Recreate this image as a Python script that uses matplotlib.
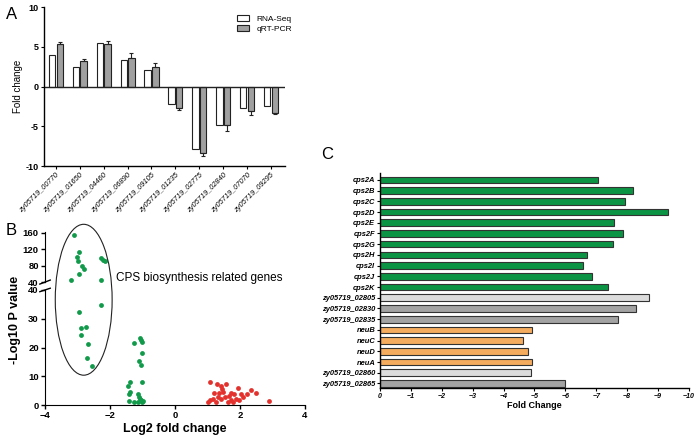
import numpy as np
import matplotlib.pyplot as plt
from matplotlib.patches import Ellipse

plt.rcParams['font.family'] = ['Liberation Sans', 'DejaVu Sans']

# Panel A data
genes_a = ['zy05719_00770', 'zy05719_01650', 'zy05719_04460', 'zy05719_06890',
           'zy05719_09105', 'zy05719_01235', 'zy05719_02775', 'zy05719_02840',
           'zy05719_07070', 'zy05719_09295']
rnaseq = [4.0, 2.4, 5.5, 3.3, 2.1, -2.2, -7.9, -4.9, -2.7, -2.5]
qpcr = [5.3, 3.2, 5.4, 3.6, 2.5, -2.7, -8.4, -4.8, -3.1, -3.3]
qpcr_err = [0.3, 0.25, 0.3, 0.6, 0.4, 0.3, 0.3, 0.8, 0.5, 0.2]

# Panel B data (volcano)
cps_x = [-3.10, -2.94, -3.02, -3.00, -2.86, -2.79, -2.96, -3.19, -2.28, -2.21,
         -2.16, -2.28, -2.27, -2.95, -2.88, -2.74, -2.90, -2.69, -2.71, -2.55]
cps_y = [155.9, 114.5, 102, 91, 79.7, 73, 59, 45.8, 99.6, 93.8,
         92, 45.8, 34.7, 32.3, 26.7, 27.2, 24.5, 21.1, 16.5, 13.7]
down_x = [-1.08, -1.04, -1.27, -1.01, -1.02, -1.10, -1.05, -1.40, -1.01, -1.45,
          -1.37, -1.41, -1.13, -1.11, -1.08, -1.43, -1.27, -1.06, -1.01, -0.98, -1.15]
down_y = [23.2, 22.6, 21.7, 22.0, 18.2, 15.4, 13.9, 8.2, 8.2, 6.8,
          4.6, 3.7, 3.8, 2.9, 2.3, 1.4, 1.2, 1.7, 1.2, 1.4, 1.2]
up_x = [1.08, 1.29, 1.58, 1.93, 1.41, 1.46, 2.34, 2.48, 2.23, 2.03,
        1.82, 1.20, 1.36, 1.49, 1.71, 1.07, 1.16, 1.26, 1.41, 1.53,
        1.62, 1.71, 1.87, 1.80, 1.98, 2.08, 2.88, 1.31, 1.00, 1.66]
up_y = [8.2, 7.3, 7.5, 6.0, 6.5, 5.6, 5.4, 4.2, 3.7, 3.7,
        3.8, 4.1, 4.1, 4.6, 4.1, 1.7, 2.3, 1.2, 2.0, 2.9,
        1.2, 1.7, 2.3, 1.2, 1.7, 2.9, 1.4, 2.9, 1.2, 3.1]

# Panel C data
genes_c = ['cps2A', 'cps2B', 'cps2C', 'cps2D', 'cps2E', 'cps2F', 'cps2G', 'cps2H',
           'cps2I', 'cps2J', 'cps2K', 'zy05719_02805', 'zy05719_02830',
           'zy05719_02835', 'neuB', 'neuC', 'neuD', 'neuA', 'zy05719_02860',
           'zy05719_02865']
fold_c = [-7.06, -8.2, -7.94, -9.31, -7.59, -7.86, -7.56, -6.69, -6.58, -6.86,
          -7.38, -8.7, -8.28, -7.72, -4.92, -4.62, -4.79, -4.92, -4.89, -5.99]
group_c = ['g'] * 11 + ['l', 'm', 'm', 'o', 'o', 'o', 'o', 'l', 'm']
colors = {'g': '#0b9444', 'l': '#dcdcdc', 'm': '#a3a3a3', 'o': '#f6ac5e'}

fig = plt.figure(figsize=(6.96, 4.38), dpi=100)

# ---------- Panel A ----------
ax = fig.add_axes([0.0632, 0.621, 0.346, 0.363])
x = np.arange(len(genes_a))
w = 0.27
ax.bar(x - 0.16, rnaseq, w, color='white', edgecolor='#222222', lw=0.8, label='RNA-Seq')
q_err = [[0 if v > 0 else e for v, e in zip(qpcr, qpcr_err)],
         [e if v > 0 else 0 for v, e in zip(qpcr, qpcr_err)]]
ax.bar(x + 0.16, qpcr, w, color='#a0a0a0', edgecolor='#222222', lw=0.8, label='qRT-PCR',
       yerr=q_err, error_kw=dict(ecolor='#222222', elinewidth=0.8, capsize=1.5, capthick=0.8))
ax.axhline(0, color='#222222', lw=1)
ax.set_xlim(-0.5, 9.58)
ax.set_ylim(-10, 10)
ax.set_yticks([-10, -5, 0, 5, 10])
ax.set_yticklabels(['-10', '-5', '0', '5', '10'], fontweight='bold', fontsize=6.5)
ax.set_xticks(x)
ax.set_xticklabels(genes_a, rotation=45, ha='right', rotation_mode='anchor',
                   fontsize=5.3, style='italic')
ax.tick_params(length=2.5, width=0.8, pad=1.5)
ax.set_ylabel('Fold change', fontsize=7, labelpad=2)
for s in ['top', 'right']:
    ax.spines[s].set_visible(False)
for s in ['left', 'bottom']:
    ax.spines[s].set_linewidth(1)
ax.legend(loc='upper right', bbox_to_anchor=(1.06, 1.0), frameon=False, fontsize=6,
          handlelength=1.5, handleheight=0.8, labelspacing=0.3)

# ---------- Panel B (broken y axis) ----------
bl, bw = 0.0647, 0.3735
ax_hi = fig.add_axes([bl, 0.356, bw, 0.114])
ax_lo = fig.add_axes([bl, 0.075, bw, 0.263])
green = '#109a4a'
red = '#e3312d'
hi_x = [a for a, b in zip(cps_x, cps_y) if b >= 40]
hi_y = [b for b in cps_y if b >= 40]
lo_x = [a for a, b in zip(cps_x, cps_y) if b < 40]
lo_y = [b for b in cps_y if b < 40]
ax_hi.scatter(hi_x, hi_y, s=12, color=green, lw=0, clip_on=False)
ax_lo.scatter(lo_x, lo_y, s=12, color=green, lw=0)
ax_lo.scatter(down_x, down_y, s=12, color=green, lw=0, clip_on=False)
ax_lo.scatter(up_x, up_y, s=12, color=red, lw=0, clip_on=False)
for a in (ax_hi, ax_lo):
    a.set_xlim(-4, 4)
    for s in ['top', 'right']:
        a.spines[s].set_visible(False)
    a.tick_params(length=3, width=1, pad=1.5, labelsize=6.8)
ax_hi.set_ylim(40, 162)
ax_hi.set_yticks([40, 80, 120, 160])
ax_hi.spines['bottom'].set_visible(False)
ax_hi.set_xticks([])
ax_lo.set_ylim(0, 40)
ax_lo.set_yticks([0, 10, 20, 30, 40])
ax_lo.set_xticks([-4, -2, 0, 2, 4])
for a in (ax_hi, ax_lo):
    for lab in a.get_yticklabels() + a.get_xticklabels():
        lab.set_fontweight('bold')
ax_lo.set_xlabel('Log2 fold change', fontsize=9, fontweight='bold', labelpad=2)
fig.text(0.022, 0.27, '-Log10 P value', rotation=90, fontsize=9, fontweight='bold',
         ha='center', va='center')
# break marks
ax_hi.plot([-0.02, 0.02], [-0.04, 0.04], transform=ax_hi.transAxes, color='black',
           lw=1, clip_on=False)
ax_lo.plot([-0.02, 0.02], [0.985, 1.015], transform=ax_lo.transAxes, color='black',
           lw=1, clip_on=False)
ax_lo.add_patch(Ellipse((-2.81, 36.6), 1.75, 52.4, fill=False, ec='#222222', lw=0.8,
                        clip_on=False))
ax_lo.text(-1.83, 44, 'CPS biosynthesis related genes', fontsize=8.5, va='center', ha='left')

# ---------- Panel C ----------
axc = fig.add_axes([0.546, 0.1142, 0.4437, 0.4908])
yc = np.arange(len(genes_c))
axc.barh(yc, fold_c, 0.62, color=[colors[g] for g in group_c], edgecolor='#333333', lw=0.8)
axc.set_xlim(0, -10)
axc.set_ylim(19.42, -0.64)
axc.set_yticks(yc)
axc.set_yticklabels(genes_c, fontsize=5.4, style='italic', fontweight='bold')
axc.set_xticks(range(0, -11, -1))
axc.set_xticklabels(['0'] + ['\u2212%d' % i for i in range(1, 11)], fontsize=5,
                    style='italic', fontweight='bold')
axc.tick_params(length=2, width=0.8, pad=1.5)
axc.set_xlabel('Fold Change', fontsize=6.5, fontweight='bold', labelpad=1)
for s in ['top', 'right']:
    axc.spines[s].set_visible(False)
for s in ['left', 'bottom']:
    axc.spines[s].set_linewidth(1)

# panel letters
fig.text(0.008, 0.985, 'A', fontsize=12, va='top')
fig.text(0.008, 0.49, 'B', fontsize=12, va='top')
fig.text(0.462, 0.665, 'C', fontsize=12, va='top')

fig.savefig('out.png', dpi=100)
